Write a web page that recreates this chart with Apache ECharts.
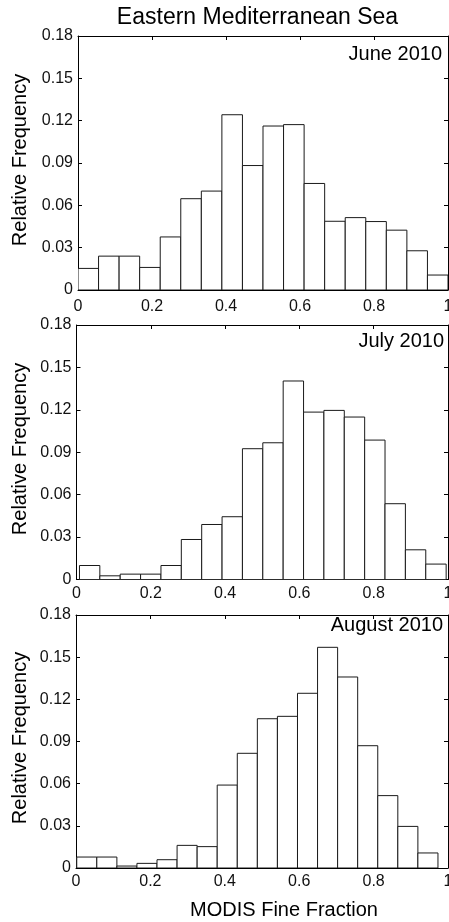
<!DOCTYPE html>
<html>
<head>
<meta charset="utf-8">
<script src="https://cdn.jsdelivr.net/npm/echarts@6/dist/echarts.min.js"></script>
<style>
  html, body { margin: 0; padding: 0; background: #fff; }
  #chart { width: 449px; height: 922px; }
</style>
</head>
<body>
<div id="chart"></div>
<script>
// Histograms of MODIS fine fraction, 18 bins per month
const months = ['June 2010', 'July 2010', 'August 2010'];

// lower and upper edge of the binned range for each month
const juneRange = [0.0, 1.0];
const julyRange = [0.008, 0.995];
const augustRange = [0.002, 0.973];

const juneFreq = [0.0153, 0.024, 0.024, 0.016, 0.0376, 0.0647, 0.0701, 0.1242, 0.0882,
                  0.1162, 0.1172, 0.0755, 0.0487, 0.0513, 0.0485, 0.0424, 0.0278, 0.0106];
const julyFreq = [0.0099, 0.0026, 0.0038, 0.0038, 0.0099, 0.0283, 0.0389, 0.0444, 0.0925,
                  0.0967, 0.1404, 0.1184, 0.1196, 0.1149, 0.0986, 0.0536, 0.021, 0.0109];
const augustFreq = [0.0078, 0.0078, 0.0014, 0.0033, 0.0059, 0.0161, 0.0152, 0.059, 0.0816,
                    0.1062, 0.1079, 0.1243, 0.157, 0.1359, 0.087, 0.0515, 0.0296, 0.0107];

const xTicks = [0, 0.2, 0.4, 0.6, 0.8, 1];
const yTicks = [0, 0.03, 0.06, 0.09, 0.12, 0.15, 0.18];

const ranges = [juneRange, julyRange, augustRange];
const freqs = [juneFreq, julyFreq, augustFreq];

const FONT = "'Liberation Sans', Arial, sans-serif";

// bins as [start, end, frequency]
function toBins(range, freq) {
  const w = (range[1] - range[0]) / freq.length;
  return freq.map((f, i) => [range[0] + i * w, range[0] + (i + 1) * w, f]);
}

function renderBar(params, api) {
  const lo = api.coord([api.value(0), api.value(2)]);
  const hi = api.coord([api.value(1), 0]);
  return {
    type: 'rect',
    shape: { x: lo[0], y: lo[1], width: hi[0] - lo[0], height: hi[1] - lo[1] },
    style: { fill: '#ffffff', stroke: '#1a1a1a', lineWidth: 1 }
  };
}

const grids = [
  { left: 78, top: 36, width: 370, height: 254 },
  { left: 76.5, top: 325, width: 371.5, height: 254.5 },
  { left: 76, top: 615, width: 372, height: 253 }
];
const xLabelMargin = [9, 6, 6];

const lineStyle = { color: '#000', width: 1 };
const tickStyle = { show: true, inside: true, length: 4, lineStyle: { color: '#000', width: 1 } };

const xAxes = [], yAxes = [], series = [];
grids.forEach((g, i) => {
  const xBase = {
    type: 'value', gridIndex: i,
    min: xTicks[0], max: xTicks[xTicks.length - 1], interval: xTicks[1] - xTicks[0],
    splitLine: { show: false },
    axisLine: { show: true, onZero: false, lineStyle },
    axisTick: tickStyle
  };
  xAxes.push(Object.assign({}, xBase, {
    position: 'bottom',
    axisLabel: {
      show: true, margin: xLabelMargin[i], fontSize: 16, fontFamily: FONT, color: '#111',
      showMinLabel: true, showMaxLabel: true, hideOverlap: false,
      formatter: v => (v === 0 || v === 1) ? String(v) : v.toFixed(1)
    }
  }));
  xAxes.push(Object.assign({}, xBase, { position: 'top', axisLabel: { show: false } }));

  const yBase = {
    type: 'value', gridIndex: i,
    min: yTicks[0], max: yTicks[yTicks.length - 1], interval: yTicks[1] - yTicks[0],
    splitLine: { show: false },
    axisLine: { show: true, onZero: false, lineStyle },
    axisTick: tickStyle
  };
  yAxes.push(Object.assign({}, yBase, {
    position: 'left',
    axisLabel: {
      show: true, margin: 5, fontSize: 16, fontFamily: FONT, color: '#111',
      showMinLabel: true, showMaxLabel: true, hideOverlap: false,
      formatter: v => v === 0 ? '0' : v.toFixed(2)
    }
  }));
  yAxes.push(Object.assign({}, yBase, { position: 'right', axisLabel: { show: false } }));

  series.push({
    type: 'custom',
    xAxisIndex: i * 2,
    yAxisIndex: i * 2,
    clip: true,
    renderItem: renderBar,
    encode: { x: [0, 1], y: 2 },
    data: toBins(ranges[i], freqs[i]),
    silent: true
  });
});

// text labels: title, month tags, axis names
const monthPos = [[442, 54], [444, 341], [443, 625]];
const yNameY = [160, 449, 738];
const graphic = [
  { type: 'text', x: 257.5, y: 18,
    style: { text: 'Eastern Mediterranean Sea', fontSize: 23, fontFamily: FONT, fill: '#000',
             align: 'center', verticalAlign: 'middle' } },
  { type: 'text', x: 284, y: 910,
    style: { text: 'MODIS Fine Fraction', fontSize: 20, fontFamily: FONT, fill: '#000',
             align: 'center', verticalAlign: 'middle' } }
];
months.forEach((m, i) => {
  graphic.push({ type: 'text', x: monthPos[i][0], y: monthPos[i][1],
    style: { text: m, fontSize: 20, fontFamily: FONT, fill: '#000',
             align: 'right', verticalAlign: 'middle' } });
  graphic.push({ type: 'text', x: 20, y: yNameY[i], rotation: Math.PI / 2,
    style: { text: 'Relative Frequency', fontSize: 20, fontFamily: FONT, fill: '#000',
             align: 'center', verticalAlign: 'middle' } });
});

const chart = echarts.init(document.getElementById('chart'), null, { renderer: 'canvas' });
chart.setOption({
  animation: false,
  backgroundColor: '#ffffff',
  grid: grids.map(g => Object.assign({ show: false, containLabel: false, outerBoundsMode: 'none' }, g)),
  xAxis: xAxes,
  yAxis: yAxes,
  series,
  graphic
});
</script>
</body>
</html>
